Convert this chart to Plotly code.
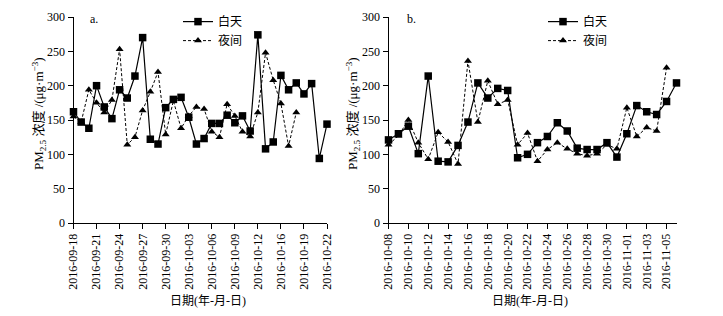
import plotly.graph_objects as go
import pandas as pd

# ---- Panel a data ----
dates_a = [d.strftime("%Y-%m-%d") for d in pd.date_range("2016-09-18", "2016-10-12")] + \
          ["2016-10-13", "2016-10-14"] + \
          [d.strftime("%Y-%m-%d") for d in pd.date_range("2016-10-16", "2016-10-22")]
day_a = [162, 147, 138, 200, 169, 152, 194, 182, 214, 270, 122, 115, 168, 180, 183, 154, 115,
         123, 145, 145, 157, 146, 156, 134, 274, 108, 118, 215, 194, 204, 188, 203, 94, 144]
night_a = [155, 147, 194, 175, 161, 179, 253, 114, 125, 164, 191, 220, 129, 178, 138, 156, 169,
           166, 133, 125, 173, 156, 133, 126, 161, 248, 208, 174, 112, 161,
           None, None, None, None]
ticks_a = ["2016-09-18", "2016-09-21", "2016-09-24", "2016-09-27", "2016-09-30", "2016-10-03",
           "2016-10-06", "2016-10-09", "2016-10-12", "2016-10-16", "2016-10-19", "2016-10-22"]

# ---- Panel b data ----
dates_b = [d.strftime("%Y-%m-%d") for d in pd.date_range("2016-10-08", "2016-11-06")]
day_b = [121, 130, 141, 101, 214, 90, 89, 113, 147, 204, 182, 196, 193, 95, 100, 117, 126,
         146, 134, 109, 107, 107, 117, 96, 130, 171, 162, 158, 177, 204]
night_b = [114, 127, 150, 117, 93, 132, 118, 86, 236, 147, 207, 173, 179, 114, 131, 90, 107,
           117, 108, 101, 98, 101, 114, 108, 168, 126, 139, 134, 226, None]
ticks_b = dates_b[0:29:2]

SERIF = "Liberation Serif, Times New Roman, Noto Sans CJK SC"
names = ["白天", "夜间"]

fig = go.Figure()

def add_panel(x, day, night, xa, ya, leg):
    fig.add_trace(go.Scatter(x=x, y=day, name=names[0], mode="lines+markers",
                             line=dict(color="black", width=1.2),
                             marker=dict(symbol="square", size=7.5, color="black"),
                             xaxis=xa, yaxis=ya, legend=leg, cliponaxis=False))
    fig.add_trace(go.Scatter(x=x, y=night, name=names[1], mode="lines+markers",
                             line=dict(color="black", width=1, dash="3px,2px"),
                             marker=dict(symbol="triangle-up", size=7, color="black"),
                             xaxis=xa, yaxis=ya, legend=leg, cliponaxis=False,
                             connectgaps=False))

add_panel(dates_a, day_a, night_a, "x", "y", "legend")
add_panel(dates_b, day_b, night_b, "x2", "y2", "legend2")

W, H = 723, 316
axis_common = dict(showline=True, linecolor="black", linewidth=1, ticks="outside",
                   ticklen=5, tickcolor="black", showgrid=False, zeroline=False,
                   automargin=False,
                   tickfont=dict(family=SERIF, size=12, color="black"))

fig.update_layout(
    template="none",
    width=W, height=H,
    margin=dict(l=0, r=0, t=17, b=93, autoexpand=False),
    plot_bgcolor="white", paper_bgcolor="white",
    font=dict(family=SERIF, size=12, color="black"),
    xaxis=dict(domain=[73.5 / W, 327 / W], type="category", range=[0, 33],
               tickmode="array", tickvals=ticks_a, ticktext=ticks_a, tickangle=-90,
               anchor="y", **axis_common),
    yaxis=dict(domain=[0, 1], range=[0, 300], dtick=50, anchor="x", **axis_common),
    xaxis2=dict(domain=[388.5 / W, 676.5 / W], type="category", range=[0, 29],
                tickmode="array", tickvals=ticks_b, ticktext=ticks_b, tickangle=-90,
                anchor="y2", **axis_common),
    yaxis2=dict(domain=[0, 1], range=[0, 300], dtick=50, anchor="x2", **axis_common),
    legend=dict(x=178 / W, y=1.048, xanchor="left", yanchor="top",
                bgcolor="rgba(0,0,0,0)", font=dict(size=12, family=SERIF),
                tracegroupgap=0),
    legend2=dict(x=543 / W, y=1.048, xanchor="left", yanchor="top",
                 bgcolor="rgba(0,0,0,0)", font=dict(size=12, family=SERIF),
                 tracegroupgap=0),
    showlegend=True,
)

ytitle = "PM<sub>2.5</sub> 浓度 /(μg·m<sup>−3</sup>)"
ph = 316 - 17 - 93  # plot height in px

def py(pix):
    return (316 - 93 - pix) / ph

annos = [
    dict(text="a.", x=88 / W, y=py(19), xanchor="left", yanchor="middle", size=12),
    dict(text="b.", x=405 / W, y=py(19), xanchor="left", yanchor="middle", size=12),
    dict(text="日期(年-月-日)", x=208 / W, y=py(301), xanchor="center", yanchor="middle", size=12),
    dict(text="日期(年-月-日)", x=530 / W, y=py(301), xanchor="center", yanchor="middle", size=12),
    dict(text=ytitle, x=39 / W, y=py(114), xanchor="center", yanchor="middle", textangle=-90, size=13),
    dict(text=ytitle, x=353 / W, y=py(114), xanchor="center", yanchor="middle", textangle=-90, size=13),
]
for a in annos:
    s = a.pop("size")
    fig.add_annotation(xref="paper", yref="paper", showarrow=False,
                       font=dict(family=SERIF, size=s, color="black"), **a)

fig.write_html("out.html", config={"displayModeBar": False},
               post_script="document.body.style.margin='0';document.body.style.overflow='hidden';")
